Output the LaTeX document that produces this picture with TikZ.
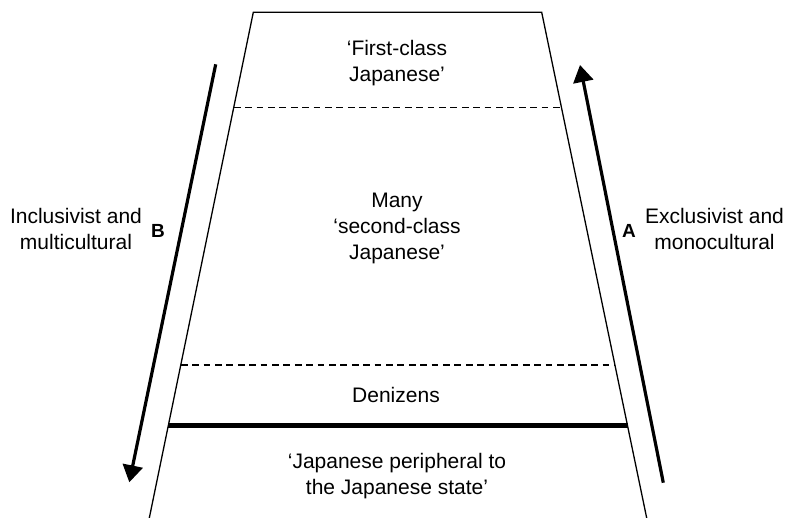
\documentclass[tikz,border=0pt]{standalone}
\usepackage{fontspec}
\setmainfont{Liberation Sans}
\usetikzlibrary{arrows.meta}

\begin{document}
\begin{tikzpicture}[x=0.5pt, y=-0.5pt,
	txt/.style={align=center, inner sep=0pt,
		font=\fontsize{10.5}{13}\selectfont},
	letter/.style={inner sep=0pt,
		font=\fontsize{9.5}{11}\selectfont\bfseries},
	side/.style={line width=0.65pt},
	band/.style={line width=0.6pt, dash pattern=on 3.4pt off 2.3pt},
	flow/.style={line width=1.6pt, -{Triangle[length=8.5pt,width=10pt]}}]
				\useasboundingbox (0,0) rectangle (788,518);
				% corners of the pyramid
				\coordinate (tl) at (253.3,12.3);
				\coordinate (tr) at (541.7,12.3);
				\coordinate (bl) at (149.3,518);
				\coordinate (br) at (646.7,518);
				\coordinate (d1l) at (233.8,107.3);
				\coordinate (d1r) at (561.4,107.3);
				\coordinate (d2l) at (180.8,365);
				\coordinate (d2r) at (614.9,365);
				\coordinate (hl) at (168.3,425.7);
				\coordinate (hr) at (627.5,425.7);
				% ends of the two arrows
				\coordinate (b1) at (215.7,64.3);
				\coordinate (b2) at (129.3,482.3);
				\coordinate (a1) at (663.3,482.7);
				\coordinate (a2) at (580,65);
				\node[txt] (first) at (397,62.7) {‘First-class\\Japanese’};
				\node[txt] (second) at (397,228.7) {Many\\‘second-class\\Japanese’};
				\node[txt] (denizens) at (396,394.5) {Denizens};
				\node[txt] (peripheral) at (397,476) {‘Japanese peripheral to\\the Japanese state’};
				\node[txt] (incl) at (76,229.2) {Inclusivist and\\multicultural};
				\node[txt] (excl) at (714.5,229.2) {Exclusivist and\\monocultural};
				\node[letter] (B) at (158,231) {B};
				\node[letter] (A) at (629,231) {A};
				\draw[side] (bl) -- (tl) -- (tr) -- (br);
				\draw[band] (d1l) -- (d1r);
				\draw[band] (d2l) -- (d2r);
				\draw[line width=2.5pt] (hl) -- (hr);
				\draw[flow] (b1) -- (b2);
				\draw[flow] (a1) -- (a2);
			\end{tikzpicture}
\end{document}
